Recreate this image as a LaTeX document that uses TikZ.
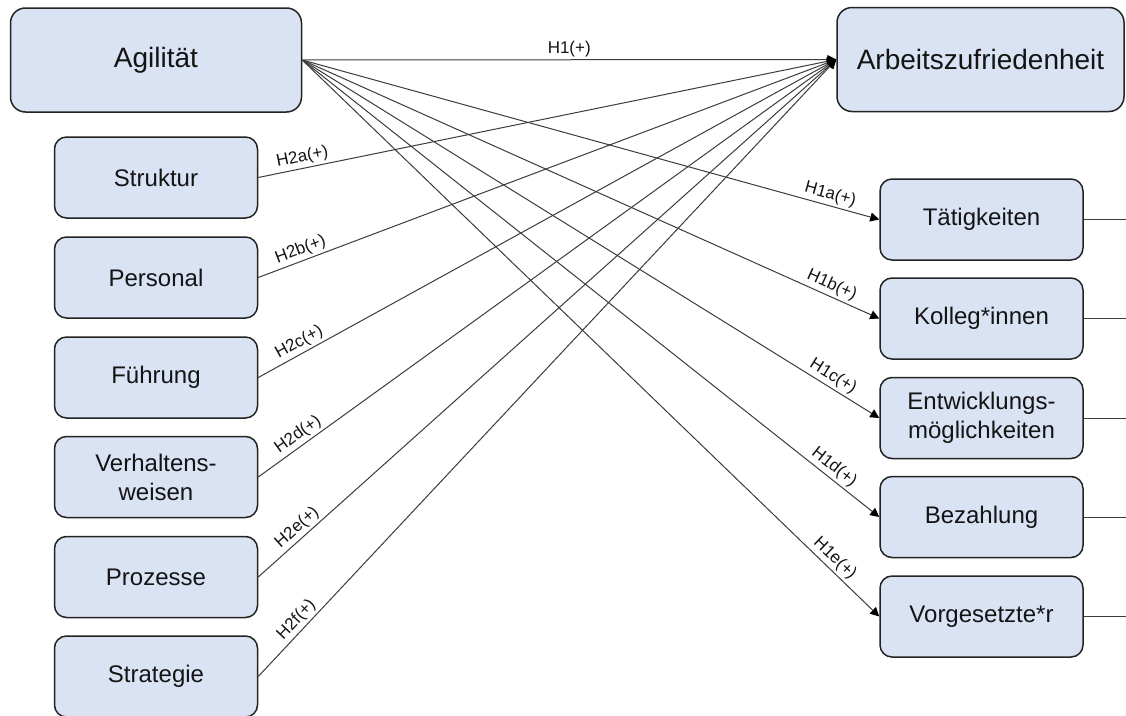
\documentclass[tikz,border=0pt]{standalone}
\usepackage{fontspec}
\setmainfont{Liberation Sans}
\usetikzlibrary{arrows.meta,backgrounds}
\definecolor{boxfill}{RGB}{218,227,243}
\definecolor{boxline}{RGB}{35,35,35}
\definecolor{conn}{RGB}{60,60,60}
\definecolor{txt}{RGB}{20,20,20}
\tikzset{
  bigbox/.style={draw=boxline, line width=1.5pt, fill=boxfill, rounded corners=15pt,
    minimum width=291pt, minimum height=104pt, inner sep=0pt, text=txt,
    font=\fontsize{28}{32}\selectfont},
  smallbox/.style={draw=boxline, line width=1.5pt, fill=boxfill, rounded corners=12pt,
    minimum width=203pt, minimum height=81pt, inner sep=0pt, text=txt, align=center,
    font=\fontsize{24}{29}\selectfont},
  conline/.style={draw=conn, line width=1pt},
  arr/.style={conline, -{Triangle[length=9pt,width=9pt,color=black]}},
  lbl/.style={font=\fontsize{17}{19}\selectfont, text=txt, inner sep=2.5pt, sloped, above}
}
\begin{document}
\begin{tikzpicture}[x=1pt,y=-1pt]
\useasboundingbox (0,0) rectangle (1126,715);
\fill[white] (0,0) rectangle (1126,715);
% main boxes
\node[bigbox] (agil) at (156,60) {Agilität};
\node[bigbox, minimum width=287pt] (arb) at (980.5,59.5) {Arbeitszufriedenheit};
% left boxes
\node[smallbox] (s1) at (156,177.5) {Struktur};
\node[smallbox] (s2) at (156,277.5) {Personal};
\node[smallbox] (s3) at (156,377.5) {Führung};
\node[smallbox] (s4) at (156,477) {Verhaltens-\\weisen};
\node[smallbox] (s5) at (156,577) {Prozesse};
\node[smallbox] (s6) at (156,676.5) {Strategie};
% right boxes
\node[smallbox] (r1) at (981.5,219.5) {Tätigkeiten};
\node[smallbox] (r2) at (981.5,318.5) {Kolleg*innen};
\node[smallbox] (r3) at (981.5,418) {Entwicklungs-\\möglichkeiten};
\node[smallbox] (r4) at (981.5,517) {Bezahlung};
\node[smallbox] (r5) at (981.5,616.5) {Vorgesetzte*r};
% free ends on the right
\coordinate (e1) at (1126,219.5);
\coordinate (e2) at (1126,318.5);
\coordinate (e3) at (1126,418);
\coordinate (e4) at (1126,517);
\coordinate (e5) at (1126,616.5);
\begin{scope}[on background layer]
  \draw[conline] (agil.west) -- (agil.west |- s6.west) -- (s6.west);
  \foreach \n in {s1,s2,s3,s4,s5}{\draw[conline] (agil.west |- \n.west) -- (\n.west);}
\end{scope}
\foreach \i in {1,...,5}{\draw[conline] (r\i.east) -- (e\i);}
% H1
\draw[arr] (agil.east) -- node[lbl, pos=0.5] {H1(+)} (arb.west);
\draw[arr] (agil.east) -- node[lbl, pos=0.91] {H1a(+)} (r1.west);
\draw[arr] (agil.east) -- node[lbl, pos=0.91] {H1b(+)} (r2.west);
\draw[arr] (agil.east) -- node[lbl, pos=0.91] {H1c(+)} (r3.west);
\draw[arr] (agil.east) -- node[lbl, pos=0.91] {H1d(+)} (r4.west);
\draw[arr] (agil.east) -- node[lbl, pos=0.91] {H1e(+)} (r5.west);
% H2
\draw[arr] (s1.east) -- node[lbl, pos=0.08] {H2a(+)} (arb.west);
\draw[arr] (s2.east) -- node[lbl, pos=0.08] {H2b(+)} (arb.west);
\draw[arr] (s3.east) -- node[lbl, pos=0.08] {H2c(+)} (arb.west);
\draw[arr] (s4.east) -- node[lbl, pos=0.08] {H2d(+)} (arb.west);
\draw[arr] (s5.east) -- node[lbl, pos=0.08] {H2e(+)} (arb.west);
\draw[arr] (s6.east) -- node[lbl, pos=0.08] {H2f(+)} (arb.west);
\end{tikzpicture}
\end{document}
